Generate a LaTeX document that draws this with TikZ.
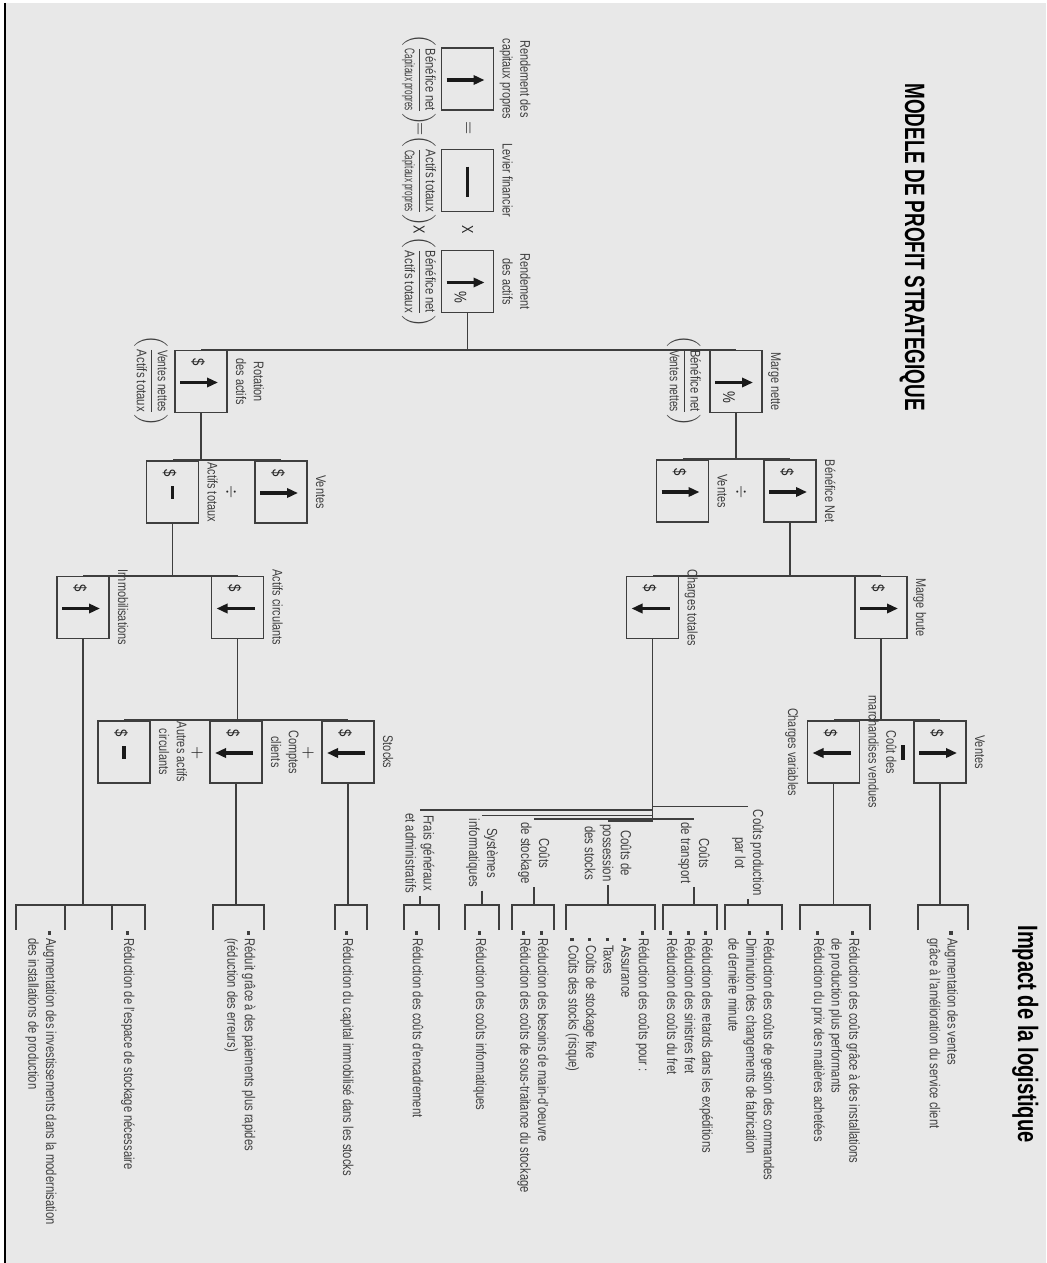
\documentclass[tikz,border=0pt]{standalone}
\usepackage{amsmath}
\usepackage{graphicx}
\usepackage{fontspec}
\setmainfont{Liberation Sans}[FakeStretch=0.78]
\newfontfamily\headfont{Liberation Sans}[FakeStretch=0.675]
\newfontfamily\subheadfont{Liberation Sans}[FakeStretch=0.72]
\usetikzlibrary{arrows.meta,calc}

\definecolor{paper}{RGB}{232,232,232}
\definecolor{ink}{RGB}{62,62,62}

% bullets of the impact lists
\newcommand{\bul}{\makebox[3.4pt][l]{\rule[0.9pt]{1.6pt}{1.6pt}}}
\newcommand{\ind}{\hspace*{3.4pt}}
% ratio under a box
\newcommand{\ratio}[2]{$\left(\dfrac{\mbox{\resizebox{31pt}{\height}{#1}}}{\mbox{\resizebox{31pt}{\height}{#2}}}\right)$}
% box contents
\newcommand{\incr}[1]{\draw[arr] ($(#1)+(1,-21)$) -- ($(#1)+(1,17)$);}
\newcommand{\decr}[1]{\draw[arr] ($(#1)+(1,17)$) -- ($(#1)+(1,-21)$);}
\newcommand{\stable}[1]{\draw[bar] ($(#1)+(-6,0)$) -- ($(#1)+(7,0)$);}
\newcommand{\dol}[1]{\node[sym] (#1-d) at ($(#1)+(-19,-3)$) {\$};}
\newcommand{\pct}[1]{\node[sym] (#1-p) at ($(#1)+(16,-7)$) {\%};}
% bracket in front of an impact list
\newcommand{\brak}[2]{\draw[conn] (930,#1) -- (905,#1) -- (905,#2) -- (930,#2);}

\begin{document}
\begin{tikzpicture}
[
  x=0.5pt,y=0.5pt,
  box/.style={draw=ink,line width=0.8pt,minimum width=31pt,minimum height=26pt,inner sep=0pt},
  conn/.style={draw=ink,line width=0.9pt},
  arr/.style={line width=1.6pt,black!90,-{Triangle[length=5.5pt,width=4.6pt]}},
  bar/.style={line width=1.7pt,black!90},
  lbl/.style={text=ink,font=\fontsize{7}{8.8}\selectfont,align=center,inner sep=0pt,text depth=1.5pt},
  frm/.style={text=ink,font=\fontsize{7}{8.4}\selectfont,inner sep=0pt},
  costlbl/.style={text=ink,font=\fontsize{7.3}{9}\selectfont,align=center,inner sep=1.5pt},
  sym/.style={text=black!85,font=\fontsize{8.5}{9}\selectfont,inner sep=0pt},
  op/.style={text=black!85,font=\fontsize{8}{9}\selectfont,inner sep=0pt},
  imp/.style={text=ink,font=\fontsize{7.2}{8.8}\selectfont,align=left,anchor=west,inner sep=0pt}
]

% page
\useasboundingbox (0,0) rectangle (1046,-1263);
\fill[white] (0,0) rectangle (1046,-1263);
\fill[paper] (6,-3) rectangle (1046,-1263);
\draw[line width=1.4pt] (5,-3) -- (5,-1263);

% the model is laid out landscape and turned a quarter
% (in this frame -| runs along the bus first)
\begin{scope}[rotate=-90,transform shape]

% titles
\node[anchor=base west,inner sep=0pt,font=\headfont\bfseries\fontsize{14}{16}\selectfont] (title) at (83,905) {MODELE DE PROFIT STRATEGIQUE};
\node[anchor=base west,inner sep=0pt,font=\subheadfont\bfseries\fontsize{14}{16}\selectfont] (impact) at (925,1018) {Impact de la logistique};

% return on equity = leverage x return on assets
\node[box] (rcp) at (79,467.5) {};
\incr{rcp}
\node[lbl,anchor=south] (rcp-l) at ($(rcp.north)+(0,5)$) {Rendement des\\capitaux propres};
\node[frm] (rcp-f) at (80,419) {\ratio{Bénéfice net}{Capitaux propres}};

\node[op] (eq-a) at (128,467.5) {$=$};
\node[op] (eq-b) at (129,419) {$=$};

\node[box] (lf) at (180.5,467.5) {};
\draw[bar] ($(lf)+(-14,0)$) -- ($(lf)+(16,0)$);
\node[lbl,anchor=south] (lf-l) at ($(lf.north)+(0,5)$) {Levier financier};
\node[frm] (lf-f) at (181,419) {\ratio{Actifs totaux}{Capitaux propres}};

\node[op] (x-a) at (230,467.5) {X};
\node[op] (x-b) at (230,419) {X};

\node[box] (ra) at (281.5,467.5) {};
\incr{ra} \pct{ra}
\node[lbl,anchor=south] (ra-l) at ($(ra.north)+(0,5)$) {Rendement\\des actifs};
\node[frm] (ra-f) at (282,419) {\ratio{Bénéfice net}{Actifs totaux}};

% margin and turnover
\node[box] (mn) at (381.5,736) {};
\incr{mn} \pct{mn}
\node[lbl,anchor=south] (mn-l) at ($(mn.north)+(0,5)$) {Marge nette};
\node[frm] (mn-f) at (381,684) {\ratio{Bénéfice net}{Ventes nettes}};

\node[box] (rot) at (381.5,201) {};
\incr{rot} \dol{rot}
\node[lbl,anchor=south] (rot-l) at ($(rot.north)+(0,5)$) {Rotation\\des actifs};
\node[frm] (rot-f) at (381,151) {\ratio{Ventes nettes}{Actifs totaux}};

\coordinate (j1) at (330,467.5);
\draw[conn] (ra.east) -- (j1);
\draw[conn] (j1) -| (mn.west);
\draw[conn] (j1) -| (rot.west);

% second level
\node[box] (bn) at (491,790) {};
\incr{bn} \dol{bn}
\node[lbl,anchor=south] (bn-l) at ($(bn.north)+(0,5)$) {Bénéfice Net};
\node[op] (div-a) at (492,741) {$\div$};
\node[box] (v1) at (491,682.5) {};
\incr{v1} \dol{v1}
\node[lbl,anchor=south] (v1-l) at ($(v1.north)+(0,5)$) {Ventes};

\node[box] (v2) at (492,281) {};
\incr{v2} \dol{v2}
\node[lbl,anchor=south] (v2-l) at ($(v2.north)+(0,5)$) {Ventes};
\node[op] (div-b) at (492,231) {$\div$};
\node[box] (at) at (492,172.5) {};
\stable{at} \dol{at}
\node[lbl,anchor=south] (at-l) at ($(at.north)+(0,5)$) {Actifs totaux};

\coordinate (j2) at (432,736);
\draw[conn] (mn.east) -- (j2);
\draw[conn] (j2) -| (bn.west);
\draw[conn] (j2) -| (v1.west);
\coordinate (j3) at (430,201);
\draw[conn] (rot.east) -- (j3);
\draw[conn] (j3) -| (v2.west);
\draw[conn] (j3) -| (at.west);

% third level
\node[box] (mb) at (607.5,881) {};
\incr{mb} \dol{mb}
\node[lbl,anchor=south] (mb-l) at ($(mb.north)+(0,5)$) {Marge brute};
\node[box] (ct) at (607.5,652.5) {};
\decr{ct} \dol{ct}
\node[lbl,anchor=south] (ct-l) at ($(ct.north)+(0,5)$) {Charges totales};

\node[box] (ac) at (607.5,237.5) {};
\decr{ac} \dol{ac}
\node[lbl,anchor=south] (ac-l) at ($(ac.north)+(0,5)$) {Actifs circulants};
\node[box] (im) at (607.5,83) {};
\incr{im} \dol{im}
\node[lbl,anchor=south] (im-l) at ($(im.north)+(0,5)$) {Immobilisations};

\coordinate (j4) at (548,790);
\draw[conn] (bn.east) -- (j4);
\draw[conn] (j4) -| (mb.west);
\draw[conn] (j4) -| (ct.west);
\coordinate (j5) at (551,172.5);
\draw[conn] (at.east) -- (j5);
\draw[conn] (j5) -| (ac.west);
\draw[conn] (j5) -| (im.west);

% fourth level
\node[box] (v3) at (752,940) {};
\incr{v3} \dol{v3}
\node[lbl,anchor=south] (v3-l) at ($(v3.north)+(0,5)$) {Ventes};
\draw[bar] (745,903) -- (760,903);
\node[box] (cv) at (752,833.5) {};
\decr{cv} \dol{cv}
\node[lbl,anchor=south] (cv-l) at ($(cv.north)+(0,5)$) {Coût des\\marchandises vendues};
\node[lbl,anchor=north,text depth=] (cv-b) at ($(cv.south)+(0,-8)$) {Charges variables};

\node[box] (st) at (752,348) {};
\decr{st} \dol{st}
\node[lbl,anchor=south] (st-l) at ($(st.north)+(0,5)$) {Stocks};
\node[op] (plus-a) at (753,308) {$+$};
\node[box] (cc) at (752,236) {};
\decr{cc} \dol{cc}
\node[lbl,anchor=south] (cc-l) at ($(cc.north)+(0,5)$) {Comptes\\clients};
\node[op] (plus-b) at (753,197) {$+$};
\node[box] (aa) at (752,124) {};
\stable{aa} \dol{aa}
\node[lbl,anchor=south] (aa-l) at ($(aa.north)+(0,5)$) {Autres actifs\\circulants};

\coordinate (j6) at (685,881);
\draw[conn] (mb.east) -- (j6);
\draw[conn] (j6) -| (v3.west);
\draw[conn] (j6) -| (cv.west);
\coordinate (j7) at (684,237.5);
\draw[conn] (ac.east) -- (j7);
\draw[conn] (j7) -| (st.west);
\draw[conn] (j7) -| (cc.west);
\draw[conn] (j7) -| (aa.west);

% cost items
\node[costlbl] (cp) at (853,748) {Coûts production\\par lot};
\node[costlbl] (tr) at (853,694) {Coûts\\de transport};
\node[costlbl] (po) at (853,608) {Coûts de\\possession\\des stocks};
\node[costlbl] (sk) at (853,534) {Coûts\\de stockage};
\node[costlbl] (sy) at (853,482) {Systèmes\\informatiques};
\node[costlbl] (fg) at (853,420) {Frais généraux\\et administratifs};

\coordinate (j8) at (795,652.5);
\draw[conn] (ct.east) -- (j8);
\foreach \c in {cp,tr,po,sk,sy,fg}
  \draw[conn] (j8) -| (\c.west);

% impact of logistics
\coordinate (k-v3) at (905,940);
\coordinate (k-cv) at (905,833.5);
\coordinate (k-cp) at (905,748);
\coordinate (k-tr) at (905,694);
\coordinate (k-po) at (905,608);
\coordinate (k-sk) at (905,534);
\coordinate (k-sy) at (905,482);
\coordinate (k-fg) at (905,420);
\coordinate (k-st) at (905,348);
\coordinate (k-cc) at (905,236);
\coordinate (k-im1) at (905,128);
\coordinate (k-im2) at (905,45);

\foreach \c in {v3,cv,st,cc}
  \draw[conn] (\c.east) -- (k-\c);
\foreach \c in {cp,tr,po,sk,sy,fg}
  \draw[conn] (\c.east) -- (k-\c);
\coordinate (j9) at (858,83);
\draw[conn] (im.east) -- (j9);
\draw[conn] (j9) -| (k-im1);
\draw[conn] (j9) -| (k-im2);

\brak{968}{918}
\brak{870}{800}
\brak{782}{725}
\brak{717}{663}
\brak{655}{566}
\brak{554}{512}
\brak{499}{465}
\brak{439}{404}
\brak{367}{335}
\brak{264}{213}
\brak{145}{112}
\brak{65}{16}

\node[imp] (i-v3) at (931,942.5) {\bul Augmentation des ventes\\\ind grâce à l'amélioration du service client};
\node[imp] (i-cv) at (931,835.5) {\bul Réduction des coûts grâce à des installations\\\ind de production plus performants\\\bul Réduction du prix des matières achetées};
\node[imp] (i-cp) at (931,751.5) {\bul Réduction des coûts de gestion des commandes\\\bul Diminution des changements de fabrication\\\ind de dernière minute};
\node[imp] (i-tr) at (931,690) {\bul Réduction des retards dans les expéditions\\\bul Réduction des sinistres fret\\\bul Réduction des coûts du fret};
\node[imp] (i-po) at (931,607.5) {\bul Réduction des coûts pour :\\\ind\bul Assurance\\\ind\bul Taxes\\\ind\bul Coûts de stockage fixe\\\ind\bul Coûts des stocks (risque)};
\node[imp] (i-sk) at (931,533) {\bul Réduction des besoins de main-d'oeuvre\\\bul Réduction des coûts de sous-traitance du stockage};
\node[imp] (i-sy) at (931,480) {\bul Réduction des coûts informatiques};
\node[imp] (i-fg) at (931,418) {\bul Réduction des coûts d'encadrement};
\node[imp] (i-st) at (931,347) {\bul Réduction du capital immobilisé dans les stocks};
\node[imp] (i-cc) at (931,240) {\bul Réduit grâce à des paiements plus rapides\\\ind (réduction des erreurs)};
\node[imp] (i-im1) at (931,128) {\bul Réduction de l'espace de stockage nécessaire};
\node[imp] (i-im2) at (931,41) {\bul Augmentation des investissements dans la modernisation\\\ind des installations de production};

\end{scope}
\end{tikzpicture}
\end{document}
